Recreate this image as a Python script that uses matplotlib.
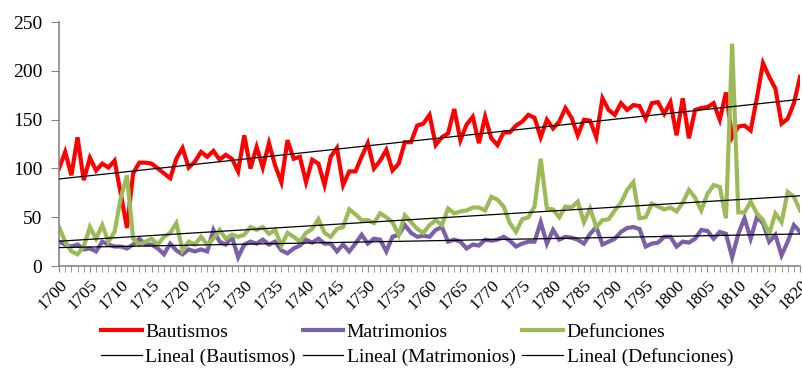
import numpy as np
import matplotlib
matplotlib.use("Agg")
import matplotlib.pyplot as plt

years = list(range(1700, 1821))

bautismos = [100, 117, 93, 132, 88, 111, 98, 105, 101, 108,
             74, 39, 95, 106, 106, 105, 100, 95, 90, 110,
             121, 101, 107, 117, 112, 118, 109, 114, 110, 97,
             134, 100, 122, 101, 126, 103, 86, 129, 110, 112,
             86, 109, 105, 83, 112, 121, 83, 97, 97, 112,
             126, 100, 108, 119, 98, 105, 127, 127, 144, 146,
             155, 124, 132, 136, 161, 129, 145, 153, 126, 153,
             131, 124, 137, 137, 144, 148, 155, 152, 132, 150,
             141, 148, 162, 152, 134, 150, 149, 132, 172, 160,
             155, 167, 160, 165, 164, 151, 167, 168, 156, 168,
             134, 172, 131, 160, 162, 163, 167, 150, 178, 132,
             143, 144, 139, 172, 208, 194, 182, 146, 151, 167,
             194]

matrimonios = [25, 22, 20, 22, 17, 18, 15, 25, 22, 20,
               20, 18, 22, 28, 22, 22, 18, 12, 23, 16,
               12, 17, 15, 17, 15, 37, 25, 22, 30, 9,
               22, 25, 23, 27, 22, 25, 16, 13, 18, 21,
               27, 24, 28, 23, 23, 15, 22, 15, 23, 32,
               23, 28, 27, 15, 30, 32, 42, 34, 30, 31,
               30, 37, 40, 25, 27, 25, 18, 22, 21, 27,
               26, 27, 30, 26, 20, 23, 25, 25, 45, 23,
               37, 27, 30, 29, 27, 23, 33, 40, 22, 25,
               28, 35, 39, 40, 38, 20, 23, 24, 30, 30,
               20, 25, 24, 28, 37, 36, 28, 35, 33, 9,
               33, 49, 28, 50, 44, 25, 32, 11, 25, 42,
               35]

defunciones = [40, 25, 15, 12, 20, 40, 28, 42, 25, 35,
               70, 93, 28, 22, 25, 28, 22, 30, 34, 44,
               16, 25, 22, 30, 22, 28, 37, 28, 32, 30,
               32, 40, 37, 40, 33, 37, 21, 34, 30, 25,
               34, 38, 48, 34, 30, 38, 40, 58, 53, 47,
               47, 44, 54, 50, 45, 32, 52, 45, 38, 34,
               42, 47, 42, 59, 54, 56, 57, 60, 60, 57,
               71, 68, 61, 44, 35, 48, 50, 61, 110, 59,
               58, 50, 61, 60, 66, 45, 59, 40, 47, 48,
               57, 65, 78, 86, 49, 50, 64, 61, 58, 60,
               56, 65, 78, 70, 57, 74, 83, 81, 49, 228,
               55, 55, 66, 54, 47, 33, 54, 45, 76, 71,
               57]

tick_years = list(range(1700, 1821, 5))
y_ticks = [0, 50, 100, 150, 200, 250]

plt.rcParams['font.family'] = ['Liberation Serif', 'DejaVu Serif']

fig = plt.figure(figsize=(8.02, 3.70), dpi=100)
ax = fig.add_axes([0.0736, 0.281, 0.924, 0.659])

series = [("Bautismos", bautismos, "#ff0000"),
          ("Matrimonios", matrimonios, "#7b5fa8"),
          ("Defunciones", defunciones, "#9bbb59")]

x = np.array(years)
data_handles = []
for name, vals, col in series:
    h, = ax.plot(x, vals, color=col, lw=3.0, solid_joinstyle='miter', label=name, zorder=2)
    data_handles.append(h)

trend_handles = []
for name, vals, col in series:
    coef = np.polyfit(x, np.array(vals, dtype=float), 1)
    h, = ax.plot(x, np.polyval(coef, x), color='black', lw=0.9,
                 label=f"Lineal ({name})", zorder=3)
    trend_handles.append(h)

ax.set_xlim(1700, 1820)
ax.set_ylim(0, 250)
ax.set_yticks(y_ticks)
ax.set_xticks(tick_years)
ax.set_xticks(years, minor=True)
ax.set_xticklabels([str(t) for t in tick_years], rotation=45, ha='right',
                   rotation_mode='anchor', fontsize=12.5)
ax.tick_params(axis='y', labelsize=14, length=6, color='#868686', pad=6)
ax.tick_params(axis='x', which='major', length=4, color='#868686', pad=4)
ax.tick_params(axis='x', which='minor', length=4, color='#868686')

for s in ['top', 'right']:
    ax.spines[s].set_visible(False)
for s in ['left', 'bottom']:
    ax.spines[s].set_color('#868686')
    ax.spines[s].set_linewidth(1.2)

order = [data_handles[0], trend_handles[0],
         data_handles[1], trend_handles[1],
         data_handles[2], trend_handles[2]]
leg = fig.legend(order, [h.get_label() for h in order], ncol=3,
                 loc='center', bbox_to_anchor=(0.52, 0.068),
                 frameon=False, fontsize=14, handlelength=2.1,
                 handletextpad=0.17, columnspacing=0.35, labelspacing=0.35,
                 borderpad=0.0)

fig.savefig("out.png", dpi=100)
